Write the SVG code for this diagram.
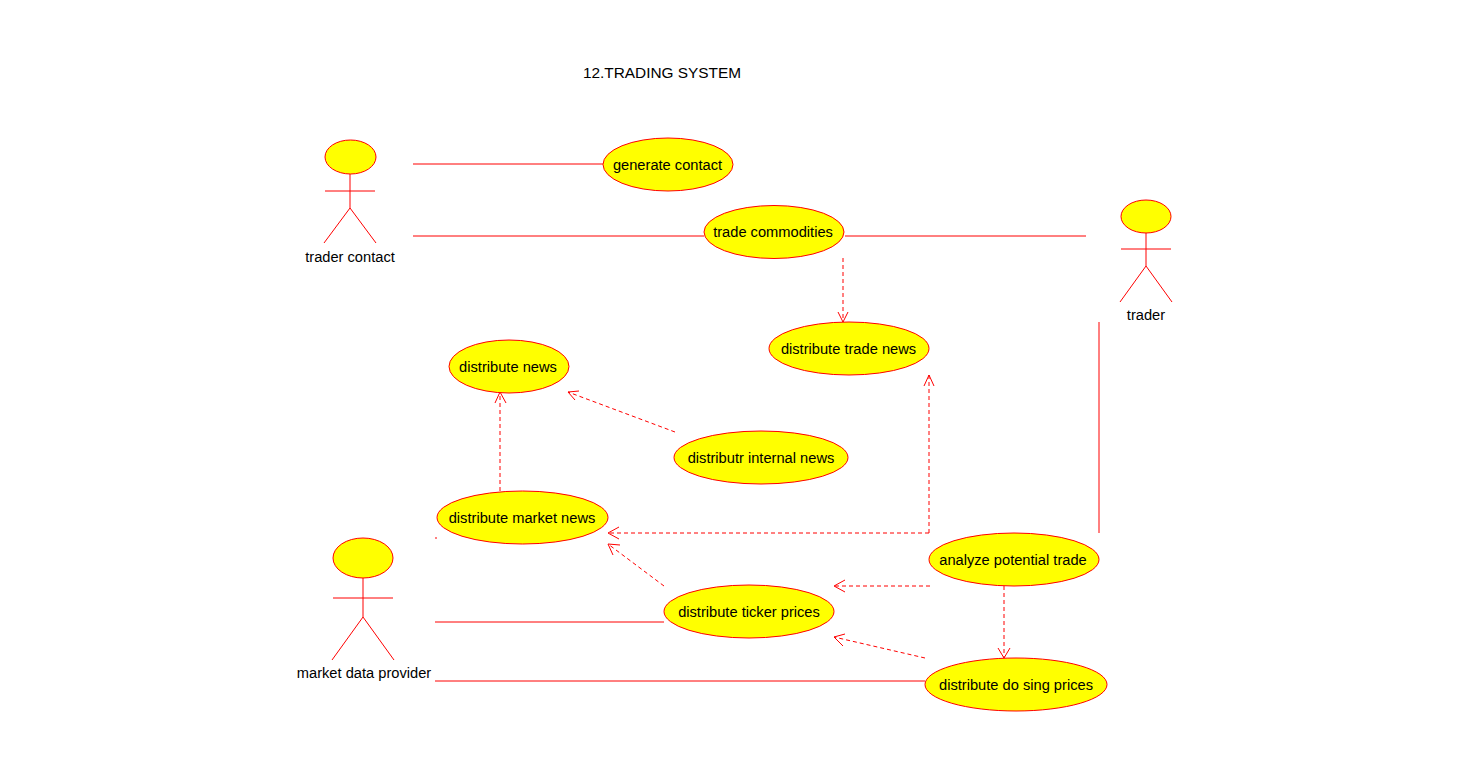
<svg xmlns="http://www.w3.org/2000/svg" width="1460" height="784" viewBox="0 0 1460 784">
<style>
text{font-family:"Liberation Sans",Arial,sans-serif;font-size:14.67px;fill:#000;text-anchor:middle}
#title{font-size:15.4px}
ellipse{fill:#ff0;stroke:#f00;stroke-width:1}
.l{fill:none;stroke:#f00;stroke-width:1}
.d{fill:none;stroke:#f00;stroke-width:1;stroke-dasharray:4 3}
.h{fill:none;stroke:#f00;stroke-width:1}
</style>
<rect width="1460" height="784" fill="#fff"/>
<text x="662" y="78" id="title">12.TRADING SYSTEM</text>
<g id="connectors">
<path class="l" d="M413 164H603M413 236H704M845 236H1086M1099 322V533M435 622H664M435 681H925M435 538H437"/>
<path class="d" d="M843 258V322"/><path class="h" d="M838 312L843 322L848 312"/>
<path class="d" d="M675 432L568 392"/><path class="h" d="M579 391L568 392L575 400"/>
<path class="d" d="M500 491V392"/><path class="h" d="M495 403L500 392L506 403"/>
<path class="d" d="M929 533V375"/><path class="h" d="M924 386L929 375L934 386"/>
<path class="d" d="M929 533H608"/><path class="h" d="M619 527L608 533L619 539"/>
<path class="d" d="M664 586L608 544"/><path class="h" d="M620 545L608 544L613 555"/>
<path class="d" d="M930 586H834"/><path class="h" d="M845 580L834 586L845 592"/>
<path class="d" d="M925 658L834 637"/><path class="h" d="M845 634L834 637L843 646"/>
<path class="d" d="M1004 586V658"/><path class="h" d="M998 648L1004 658L1010 648"/>
</g>
<g id="actor-trader-contact"><ellipse cx="350.500" cy="157" rx="25.500" ry="17"/><path class="l" d="M350 174V208M325 191H375"/><path class="l" d="M350 208L324 243M350 208L376 243"/><text x="350" y="262">trader contact</text></g>
<g id="actor-trader"><ellipse cx="1146" cy="216.500" rx="25" ry="16.500"/><path class="l" d="M1146 233V266M1121 249H1171"/><path class="l" d="M1146 266L1120 302M1146 266L1172 302"/><text x="1146" y="320">trader</text></g>
<g id="actor-market-data-provider"><ellipse cx="363" cy="558" rx="30" ry="20"/><path class="l" d="M363 578V617M333 598H393"/><path class="l" d="M363 617L332 660M363 617L394 660"/><text x="364" y="678">market data provider</text></g>
<g id="uc-generate-contact"><ellipse cx="668" cy="164.500" rx="65" ry="26.500"/><text x="667.500" y="170">generate contact</text></g>
<g id="uc-trade-commodities"><ellipse cx="774" cy="232" rx="70" ry="26.500"/><text x="773" y="237">trade commodities</text></g>
<g id="uc-distribute-trade-news"><ellipse cx="849" cy="348.500" rx="80" ry="26.500"/><text x="848.500" y="354">distribute trade news</text></g>
<g id="uc-distribute-news"><ellipse cx="509" cy="366.500" rx="60" ry="26.500"/><text x="508" y="372">distribute news</text></g>
<g id="uc-distributr-internal-news"><ellipse cx="761" cy="457.500" rx="87" ry="26.500"/><text x="761" y="463">distributr internal news</text></g>
<g id="uc-distribute-market-news"><ellipse cx="522.500" cy="517.500" rx="85.500" ry="26.500"/><text x="522" y="523">distribute market news</text></g>
<g id="uc-analyze-potential-trade"><ellipse cx="1014" cy="559.500" rx="85" ry="26.500"/><text x="1013" y="565">analyze potential trade</text></g>
<g id="uc-distribute-ticker-prices"><ellipse cx="749" cy="611.500" rx="85" ry="26.500"/><text x="749" y="617">distribute ticker prices</text></g>
<g id="uc-distribute-do-sing-prices"><ellipse cx="1016" cy="684.500" rx="91" ry="26.500"/><text x="1016" y="690">distribute do sing prices</text></g>
</svg>
